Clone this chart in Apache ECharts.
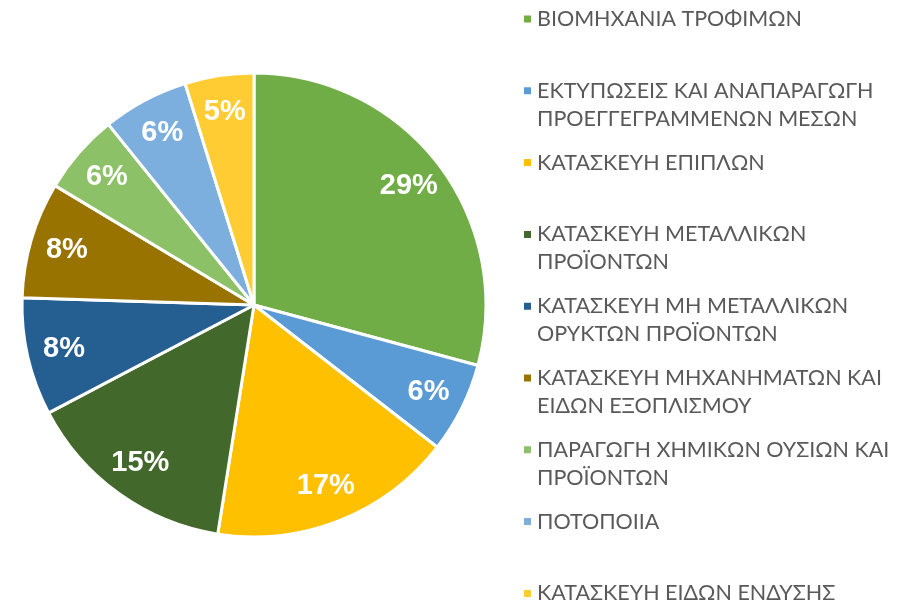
<!DOCTYPE html>
<html>
<head>
<meta charset="utf-8">
<script src="https://cdn.jsdelivr.net/npm/echarts@6/dist/echarts.min.js"></script>
<style>
  html, body { margin: 0; padding: 0; background: #ffffff; }
  #chart { width: 908px; height: 604px; }
</style>
</head>
<body>
<div id="chart"></div>
<script>
// Sectors, clockwise from 12 o'clock
const categories = [
  'ΒΙΟΜΗΧΑΝΙΑ ΤΡΟΦΙΜΩΝ',
  'ΕΚΤΥΠΩΣΕΙΣ ΚΑΙ ΑΝΑΠΑΡΑΓΩΓΗ ΠΡΟΕΓΓΕΓΡΑΜΜΕΝΩΝ ΜΕΣΩΝ',
  'ΚΑΤΑΣΚΕΥΗ ΕΠΙΠΛΩΝ',
  'ΚΑΤΑΣΚΕΥΗ ΜΕΤΑΛΛΙΚΩΝ ΠΡΟΪΟΝΤΩΝ',
  'ΚΑΤΑΣΚΕΥΗ ΜΗ ΜΕΤΑΛΛΙΚΩΝ ΟΡΥΚΤΩΝ ΠΡΟΪΟΝΤΩΝ',
  'ΚΑΤΑΣΚΕΥΗ ΜΗΧΑΝΗΜΑΤΩΝ ΚΑΙ ΕΙΔΩΝ ΕΞΟΠΛΙΣΜΟΥ',
  'ΠΑΡΑΓΩΓΗ ΧΗΜΙΚΩΝ ΟΥΣΙΩΝ ΚΑΙ ΠΡΟΪΟΝΤΩΝ',
  'ΠΟΤΟΠΟΙΙΑ',
  'ΚΑΤΑΣΚΕΥΗ ΕΙΔΩΝ ΕΝΔΥΣΗΣ'
];

// Legend text, wrapped onto lines
const legendLabels = [
  'ΒΙΟΜΗΧΑΝΙΑ ΤΡΟΦΙΜΩΝ',
  'ΕΚΤΥΠΩΣΕΙΣ ΚΑΙ ΑΝΑΠΑΡΑΓΩΓΗ\nΠΡΟΕΓΓΕΓΡΑΜΜΕΝΩΝ ΜΕΣΩΝ',
  'ΚΑΤΑΣΚΕΥΗ ΕΠΙΠΛΩΝ',
  'ΚΑΤΑΣΚΕΥΗ ΜΕΤΑΛΛΙΚΩΝ\nΠΡΟΪΟΝΤΩΝ',
  'ΚΑΤΑΣΚΕΥΗ ΜΗ ΜΕΤΑΛΛΙΚΩΝ\nΟΡΥΚΤΩΝ ΠΡΟΪΟΝΤΩΝ',
  'ΚΑΤΑΣΚΕΥΗ ΜΗΧΑΝΗΜΑΤΩΝ ΚΑΙ\nΕΙΔΩΝ ΕΞΟΠΛΙΣΜΟΥ',
  'ΠΑΡΑΓΩΓΗ ΧΗΜΙΚΩΝ ΟΥΣΙΩΝ ΚΑΙ\nΠΡΟΪΟΝΤΩΝ',
  'ΠΟΤΟΠΟΙΙΑ',
  'ΚΑΤΑΣΚΕΥΗ ΕΙΔΩΝ ΕΝΔΥΣΗΣ'
];

// Share of each sector (%)
const shares = [29.2, 6.3, 17.0, 14.8, 8.2, 8.1, 5.6, 6.0, 4.8];

const colors = ['#70AD47', '#5B9BD5', '#FFC000', '#43682B', '#255E91',
                '#997300', '#8CC168', '#7CAFDD', '#FFCD33'];

const CENTER = [254, 305];
const RADIUS = 232;
const LINE_H = 28;
const LEGEND_FIRST = 19;   // centre of the first legend line
const LEGEND_PITCH = 71.8; // distance between legend entries

const pieData = categories.map((name, i) => ({
  name: name,
  value: shares[i],
  itemStyle: { color: colors[i] }
}));

// One legend block per entry, stacked at a fixed pitch. Blank lines are
// prepended to wrapped entries so the marker lines up with the first line.
const legends = categories.map((name, i) => {
  const lines = legendLabels[i].split('\n').length;
  const text = '\n'.repeat(lines - 1) + legendLabels[i];
  const firstLineY = LEGEND_FIRST + LEGEND_PITCH * i;
  return {
    data: [name],
    orient: 'vertical',
    left: 522,
    top: firstLineY - LINE_H / 2 - (lines - 1) * LINE_H,
    padding: 0,
    icon: 'rect',
    itemWidth: 9,
    itemHeight: 9,
    selectedMode: false,
    formatter: () => text,
    textStyle: {
      fontFamily: 'Lato',
      fontSize: 21.5,
      color: '#595959',
      lineHeight: LINE_H
    }
  };
});

const chart = echarts.init(document.getElementById('chart'), null, { renderer: 'canvas' });
chart.setOption({
  animation: false,
  backgroundColor: '#ffffff',
  legend: legends,
  series: [
    {
      name: 'sectors',
      type: 'pie',
      center: CENTER,
      radius: [0, RADIUS],
      startAngle: 90,
      clockwise: true,
      avoidLabelOverlap: false,
      label: { show: false },
      labelLine: { show: false },
      emphasis: { disabled: true },
      itemStyle: { borderColor: '#ffffff', borderWidth: 3 },
      data: pieData
    },
    {
      // transparent ring that carries the percentage labels near the rim
      name: 'labels',
      type: 'pie',
      center: CENTER,
      radius: [152, RADIUS],
      startAngle: 90,
      clockwise: true,
      silent: true,
      avoidLabelOverlap: false,
      emphasis: { disabled: true },
      itemStyle: { color: 'rgba(0,0,0,0)', borderWidth: 0 },
      labelLine: { show: false },
      label: {
        show: true,
        position: 'inside',
        formatter: p => Math.round(p.percent) + '%',
        color: '#ffffff',
        fontFamily: 'Liberation Sans',
        fontWeight: 'bold',
        fontSize: 29
      },
      data: categories.map((name, i) => ({ name: name, value: shares[i] }))
    }
  ]
});
</script>
</body>
</html>
